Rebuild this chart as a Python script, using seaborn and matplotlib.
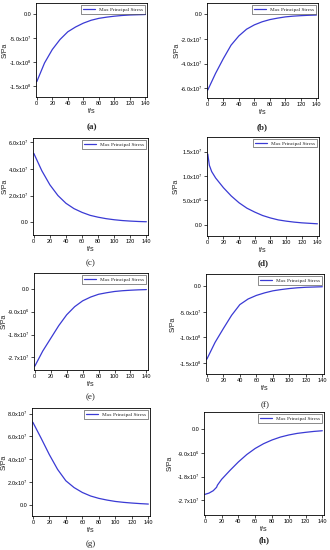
import matplotlib
matplotlib.use("Agg")
import matplotlib.pyplot as plt
import pandas as pd
import seaborn as sns

# time axis shared by most panels (s)
t_common = [0, 10, 20, 30, 40, 50, 60, 70, 80, 90, 100, 110, 120, 130, 140]

stress_a = [-1.41e8, -1.02e8, -7.4e7, -5.3e7, -3.7e7, -2.7e7, -1.9e7, -1.3e7,
            -9.0e6, -6.5e6, -4.5e6, -3.0e6, -2.0e6, -1.5e6, -1.0e6]
stress_b = [-6.15e7, -4.8e7, -3.6e7, -2.5e7, -1.75e7, -1.2e7, -8.5e6, -6.0e6,
            -4.2e6, -3.0e6, -2.0e6, -1.4e6, -1.0e6, -7.0e5, -5.0e5]
stress_c = [5.15e7, 3.85e7, 2.8e7, 2.0e7, 1.42e7, 1.02e7, 7.4e6, 5.2e6,
            3.8e6, 2.7e6, 1.9e6, 1.3e6, 9.0e5, 6.0e5, 4.0e5]
t_d = [0, 2, 5, 10, 20, 30, 40, 50, 60, 70, 80, 90, 100, 110, 120, 130, 140]
stress_d = [1.45e7, 1.22e7, 1.09e7, 9.6e6, 7.6e6, 5.9e6, 4.5e6, 3.4e6, 2.6e6,
            1.9e6, 1.4e6, 1.0e6, 7.5e5, 5.5e5, 4.0e5, 3.0e5, 2.0e5]
stress_e = [-3.05e7, -2.45e7, -1.95e7, -1.45e7, -1.02e7, -7.0e6, -4.7e6, -3.2e6,
            -2.1e6, -1.5e6, -1.0e6, -7.0e5, -5.0e5, -3.5e5, -2.5e5]
stress_f = [-1.43e8, -1.1e8, -8.3e7, -5.7e7, -3.6e7, -2.5e7, -1.8e7, -1.3e7,
            -9.0e6, -6.5e6, -4.5e6, -3.0e6, -2.0e6, -1.5e6, -1.0e6]
stress_g = [7.25e7, 5.85e7, 4.4e7, 3.1e7, 2.1e7, 1.5e7, 1.07e7, 7.6e6,
            5.5e6, 4.0e6, 2.8e6, 2.0e6, 1.4e6, 9.0e5, 5.0e5]
t_h = [0, 5, 10, 14, 15, 20, 30, 40, 50, 60, 70, 80, 90, 100, 110, 120, 130, 140]
stress_h = [-2.47e7, -2.42e7, -2.33e7, -2.2e7, -2.12e7, -1.9e7, -1.56e7, -1.24e7,
            -9.6e6, -7.3e6, -5.5e6, -4.1e6, -3.0e6, -2.2e6, -1.6e6, -1.2e6,
            -8.5e5, -6.0e5]

x_ticks = [0, 20, 40, 60, 80, 100, 120, 140]

ticks_a = [0.0, -5.0e7, -1.0e8, -1.5e8]
labels_a = ["0.0", "-5.0x10$^7$", "-1.0x10$^8$", "-1.5x10$^8$"]
ticks_b = [0.0, -2.0e7, -4.0e7, -6.0e7]
labels_b = ["0.0", "-2.0x10$^7$", "-4.0x10$^7$", "-6.0x10$^7$"]
ticks_c = [6.0e7, 4.0e7, 2.0e7, 0.0]
labels_c = ["6.0x10$^7$", "4.0x10$^7$", "2.0x10$^7$", "0.0"]
ticks_d = [1.5e7, 1.0e7, 5.0e6, 0.0]
labels_d = ["1.5x10$^7$", "1.0x10$^7$", "5.0x10$^6$", "0.0"]
ticks_e = [0.0, -9.0e6, -1.8e7, -2.7e7]
labels_e = ["0.0", "-9.0x10$^6$", "-1.8x10$^7$", "-2.7x10$^7$"]
ticks_f = [0.0, -5.0e7, -1.0e8, -1.5e8]
labels_f = ["0.0", "-5.0x10$^7$", "-1.0x10$^8$", "-1.5x10$^8$"]
ticks_g = [8.0e7, 6.0e7, 4.0e7, 2.0e7, 0.0]
labels_g = ["8.0x10$^7$", "6.0x10$^7$", "4.0x10$^7$", "2.0x10$^7$", "0.0"]
ticks_h = [0.0, -9.0e6, -1.8e7, -2.7e7]
labels_h = ["0.0", "-9.0x10$^6$", "-1.8x10$^7$", "-2.7x10$^7$"]


def makePanel(fig, box, t, s, yTicks, yLabels, yLim, tag, tagY, bold, labX):
    W, H = 330.0, 550.0
    left, top, right, bottom = box
    ax = fig.add_axes([left / W, 1 - bottom / H, (right - left) / W,
                       (bottom - top) / H])
    df = pd.DataFrame({"t/s": t, "S/Pa": s})
    sns.lineplot(data=df, x="t/s", y="S/Pa", ax=ax, color="#3a3ad4",
                 linewidth=0.9, label="Max Principal Stress")
    ax.set_xlim(-1, 142)
    ax.set_ylim(*yLim)
    ax.set_xticks(x_ticks)
    ax.set_yticks(yTicks)
    ax.set_yticklabels(yLabels)
    ax.tick_params(direction="out", length=2, width=0.5, labelsize=4.0,
                   pad=1.2, colors="black")
    for sp in ax.spines.values():
        sp.set_linewidth(0.6)
        sp.set_color("black")
    ax.set_xlabel("t/s", fontsize=5.2, labelpad=1)
    ax.set_ylabel("S/Pa", fontsize=5.0, labelpad=1)
    # y label placed at an absolute pixel column
    ax.yaxis.set_label_coords((labX - left) / (right - left), 0.5)
    leg = ax.legend(loc="upper right", frameon=True, fancybox=False,
                    handlelength=2.2, borderpad=0.35, borderaxespad=0.4,
                    prop={"family": "Liberation Serif", "size": 3.8})
    leg.get_frame().set_edgecolor("black")
    leg.get_frame().set_linewidth(0.4)
    cx = (left + right) / 2 / W
    fig.text(cx, 1 - tagY / H, tag, ha="center", va="center",
             fontsize=6.5, family="Liberation Serif",
             fontweight="bold" if bold else "normal")


def main():
    sns.set_style("ticks")
    plt.rcParams["font.family"] = ["Liberation Sans", "DejaVu Sans"]
    plt.rcParams["mathtext.fontset"] = "custom"
    plt.rcParams["mathtext.rm"] = "Liberation Sans"
    plt.rcParams["mathtext.it"] = "Liberation Sans"

    fig = plt.figure(figsize=(3.3, 5.5), dpi=100)

    makePanel(fig, (36, 3, 147, 97), t_common, stress_a, ticks_a, labels_a,
              (-1.73e8, 2.3e7), "(a)", 127, True, 9)
    makePanel(fig, (207, 3, 318, 98), t_common, stress_b, ticks_b, labels_b,
              (-6.8e7, 9.3e6), "(b)", 127, True, 181)
    makePanel(fig, (33, 138, 148, 235), t_common, stress_c, ticks_c, labels_c,
              (-9.5e6, 6.3e7), "(c)", 263, False, 9)
    makePanel(fig, (207, 137, 319, 236), t_d, stress_d, ticks_d, labels_d,
              (-2.3e6, 1.8e7), "(d)", 263, True, 180)
    makePanel(fig, (34, 273, 148, 370), t_common, stress_e, ticks_e, labels_e,
              (-3.2e7, 6.3e6), "(e)", 397, False, 8)
    makePanel(fig, (206, 274, 324, 374), t_common, stress_f, ticks_f, labels_f,
              (-1.72e8, 2.4e7), "(f)", 405, False, 177)
    makePanel(fig, (32, 408, 150, 516), t_common, stress_g, ticks_g, labels_g,
              (-1.0e7, 8.5e7), "(g)", 544, False, 8)
    makePanel(fig, (204, 412, 324, 515), t_h, stress_h, ticks_h, labels_h,
              (-3.25e7, 6.5e6), "(h)", 540, True, 174)

    fig.savefig("out.png", dpi=100)
    plt.close(fig)


if __name__ == "__main__":
    main()
